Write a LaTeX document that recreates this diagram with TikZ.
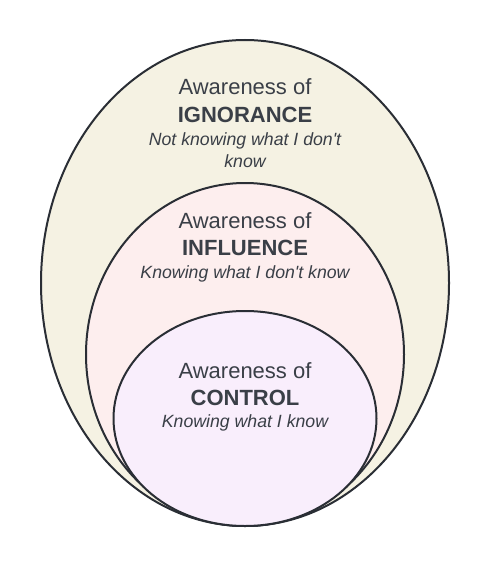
\documentclass[tikz,border=0pt]{standalone}
\usepackage{fontspec}
\setmainfont{Liberation Sans}
\definecolor{edge}{HTML}{2A2E35}
\definecolor{txt}{HTML}{3A3F47}
\definecolor{fillA}{HTML}{F5F2E3}
\definecolor{fillB}{HTML}{FDEEEE}
\definecolor{fillC}{HTML}{F9EEFC}
\begin{document}
\begin{tikzpicture}[x=1pt,y=-1pt,
  ring/.style={draw=edge,line width=2pt},
  lineA/.style={anchor=base,text=txt,font=\fontsize{22}{24}\selectfont,inner sep=0pt},
  lineB/.style={anchor=base,text=txt,font=\fontsize{22}{24}\selectfont\bfseries,inner sep=0pt},
  lineC/.style={anchor=base,text=txt,font=\fontsize{17.7}{21}\selectfont\itshape,inner sep=0pt}]
\useasboundingbox (0,0) rectangle (489,567);
\fill[white] (0,0) rectangle (489,567);
\draw[ring,fill=fillA] (245,283) ellipse [x radius=204, y radius=243];
\draw[ring,fill=fillB] (245,354.5) ellipse [x radius=159, y radius=171.5];
\draw[ring,fill=fillC] (245,418.5) ellipse [x radius=131.5, y radius=107.5];
\node[lineA] (a1) at (245,95) {Awareness of};
\node[lineB] (b1) at (245,122) {IGNORANCE};
\node[lineC] (c1) at (245,146) {Not knowing what I don\textquotesingle t};
\node[lineC] (d1) at (245,167) {know};
\node[lineA] (a2) at (245,228) {Awareness of};
\node[lineB] (b2) at (245,255) {INFLUENCE};
\node[lineC] (c2) at (245,278) {Knowing what I don\textquotesingle t know};
\node[lineA] (a3) at (245,378) {Awareness of};
\node[lineB] (b3) at (245,405) {CONTROL};
\node[lineC] (c3) at (245,427) {Knowing what I know};
\end{tikzpicture}
\end{document}
